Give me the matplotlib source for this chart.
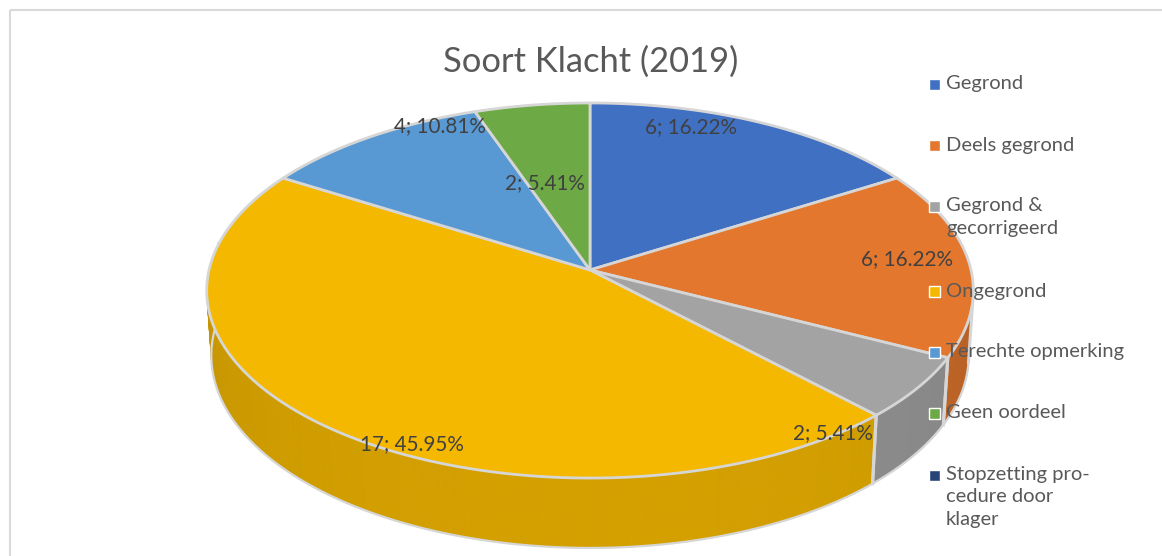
"""
Soort Klacht (2019) - 3D pie chart in Excel style, drawn with plain matplotlib patches.
"""

import numpy as np
import matplotlib
matplotlib.use("Agg")
import matplotlib.pyplot as plt
from matplotlib.patches import Polygon, Rectangle
from matplotlib.colors import to_rgb

# ── Data ─────────────────────────────────────────────────────────────────────
categories = ["Gegrond", "Deels gegrond", "Gegrond & gecorrigeerd", "Ongegrond",
              "Terechte opmerking", "Geen oordeel", "Stopzetting procedure door klager"]
legend_labels = ["Gegrond", "Deels gegrond", "Gegrond &\ngecorrigeerd", "Ongegrond",
                 "Terechte opmerking", "Geen oordeel", "Stopzetting pro-\ncedure door\nklager"]
counts = [6, 6, 2, 17, 4, 2, 0]
colors = ["#4070C2", "#E3772E", "#A3A3A3", "#F4B800", "#5999D3", "#6DAA45", "#264478"]
title = "Soort Klacht (2019)"

# label anchors on the disc: (radius fraction, angle in degrees)
label_anchor = [(0.89, 71), (0.84, 4), (0.99, -54), (0.95, -116.5), (0.95, 117), (0.51, 104)]

# ── Projection of the disc (simple perspective camera) ──────────────────────
W, H = 1162, 556
CX, CY = 590, 270        # pixel position of pie centre
SCALE = 381              # pixel radius at centre depth
DIST = 7.99              # camera distance (in pie radii)
ELEV = np.radians(29.1)  # camera elevation
THICK = 0.197            # pie thickness (in pie radii)
K = SCALE * DIST


def proj(X, Y, Z=0.0):
    X, Y, Z = np.asarray(X, float), np.asarray(Y, float), np.asarray(Z, float)
    c, s = np.cos(ELEV), np.sin(ELEV)
    rel_y = Y + DIST * c
    rel_z = Z - DIST * s
    depth = rel_y * c - rel_z * s
    v = rel_y * s + rel_z * c
    return CX + K * X / depth, CY - K * v / depth


def shade(col, f):
    r, g, b = to_rgb(col)
    return (r * f, g * f, b * f)


fig = plt.figure(figsize=(W / 100, H / 100), dpi=100)
ax = fig.add_axes([0, 0, 1, 1])
ax.set_xlim(0, W)
ax.set_ylim(H, 0)
ax.axis("off")

# chart frame
ax.add_patch(Rectangle((9.5, 9.5), W + 20, H + 20, fill=False, ec="#D9D9D9", lw=1.5))

total = sum(counts)
bounds = 90 - 360 * np.cumsum([0] + counts) / total   # clockwise from top
edge = "#D6D6D6"

# visible part of the side wall: sin(theta) < -1/(D cos(elev))
lim = np.degrees(np.arcsin(1 / (DIST * np.cos(ELEV))))
vis_lo, vis_hi = -180 - lim, -lim

# ── side walls ──
for i, n in enumerate(counts):
    if n == 0:
        continue
    a0, a1 = bounds[i + 1], bounds[i]
    for shift in (0, -360, 360):
        lo, hi = max(a0 + shift, vis_lo), min(a1 + shift, vis_hi)
        if hi <= lo:
            continue
        th = np.radians(np.linspace(lo, hi, 120))
        for j in range(len(th) - 1):
            t = th[j:j + 2]
            xt, yt = proj(np.cos(t), np.sin(t), 0)
            xb, yb = proj(np.cos(t), np.sin(t), -THICK)
            f = 0.80 + 0.07 * (-np.sin(t.mean()))
            col = shade(colors[i], f)
            ax.add_patch(Polygon(np.c_[np.r_[xt, xb[::-1]], np.r_[yt, yb[::-1]]],
                                 closed=True, fc=col, ec=col, lw=0.6, zorder=2))
        xt, yt = proj(np.cos(th), np.sin(th), 0)
        xb, yb = proj(np.cos(th), np.sin(th), -THICK)
        ax.plot(xb, yb, color=edge, lw=1.6, zorder=3, solid_capstyle="round")
        for k in (0, -1):
            ax.plot([xt[k], xb[k]], [yt[k], yb[k]], color=edge, lw=2.2, zorder=3)

# ── top faces ──
for i, n in enumerate(counts):
    if n == 0:
        continue
    th = np.radians(np.linspace(bounds[i], bounds[i + 1], 200))
    X = np.r_[0, np.cos(th)]
    Y = np.r_[0, np.sin(th)]
    px, py = proj(X, Y, 0)
    ax.add_patch(Polygon(np.c_[px, py], closed=True, fc=colors[i], ec=edge,
                         lw=2.0, joinstyle="round", zorder=4))

# ── data labels ──
for i, n in enumerate(counts):
    if n == 0:
        continue
    r, ang = label_anchor[i]
    lx, ly = proj(r * np.cos(np.radians(ang)), r * np.sin(np.radians(ang)), 0)
    ax.text(lx, ly, f"{n}; {100 * n / total:.2f}%", ha="center", va="center",
            fontsize=14.9, color="#404040", family="Lato", zorder=6)

# ── title ──
ax.text(591, 62, title, ha="center", va="center", fontsize=24.8,
        color="#595959", family="Lato", zorder=6)

# ── legend ──
leg_y = [84, 145, 217, 291, 352, 413, 497]
for lab, col, y0 in zip(legend_labels, colors, leg_y):
    nlines = lab.count("\n") + 1
    first = y0 - (nlines - 1) * 21.5 / 2
    ax.add_patch(Rectangle((929, first - 5.5), 11, 11, fc=col, ec="white", lw=1, zorder=6))
    ax.text(946, y0, lab, ha="left", va="center", fontsize=14.5, color="#595959",
            family="Lato", linespacing=1.38, zorder=6)

fig.savefig("out.png", dpi=100, facecolor="white")
